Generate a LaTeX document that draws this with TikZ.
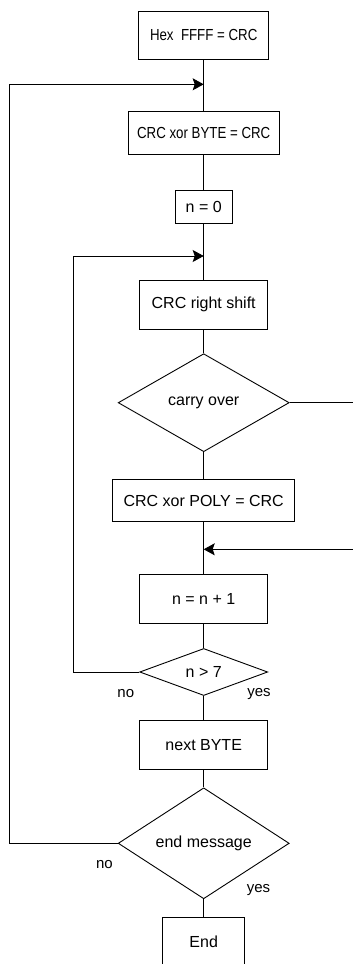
\documentclass[tikz,border=0pt]{standalone}
\usepackage{fontspec}
\setmainfont{Liberation Sans}
\newfontfamily\narrowsans[FakeStretch=0.83]{Liberation Sans}
\usetikzlibrary{shapes.geometric,arrows.meta}

\begin{document}
\begin{tikzpicture}[x=1pt,y=-1pt, line width=0.9pt,
  font=\fontsize{16}{19}\selectfont,
  block/.style 2 args={draw, rectangle, inner sep=0pt, minimum width=#1pt, minimum height=#2pt},
  decision/.style 2 args={draw, diamond, inner sep=0pt, minimum width=#1pt, minimum height=#2pt},
  flow/.style={-{Stealth[length=11pt,width=12pt,inset=2pt]}},
  lbl/.style={font=\fontsize{15}{18}\selectfont, inner sep=0pt, anchor=base}]
\useasboundingbox (0,0) rectangle (353,964);

\node[block={130}{48}] (hex) at (203.7,35.2) {\narrowsans Hex\ \ FFFF = CRC};
\node[block={151}{43}] (xbyte) at (203.7,133.3) {\narrowsans CRC xor BYTE = CRC};
\node[block={57}{33}] (nzero) at (203.7,206.7) {n = 0};
\node[block={128}{49}] (shift) at (203.7,304.7) {CRC right shift};
\node[decision={171}{98}] (carry) at (203.7,402.7) {carry over};
\node[block={182}{42}] (xpoly) at (203.7,500.5) {CRC xor POLY = CRC};
\node[block={128}{49}] (ninc) at (203.7,598.7) {n = n + 1};
\node[decision={128}{47}] (ntest) at (203.7,672) {n > 7};
\node[block={128}{49}] (nextb) at (203.7,745.3) {next BYTE};
\node[decision={171}{98}] (endmsg) at (203.7,843.3) {end message};
\node[block={82}{49}] (finish) at (203.7,941.5) {End};

\coordinate (outerin) at (203.7,84.3);
\coordinate (innerin) at (203.7,256);
\coordinate (carryin) at (203.7,549.3);

\draw (hex) -- (xbyte);
\draw (xbyte) -- (nzero);
\draw (nzero) -- (shift);
\draw (shift) -- (carry);
\draw (carry) -- (xpoly);
\draw (xpoly) -- (ninc);
\draw (ninc) -- (ntest);
\draw (ntest) -- (nextb);
\draw (nextb) -- (endmsg);
\draw (endmsg) -- (finish);

\draw[flow] (ntest.west) -- ++(-65.7,0) |- (innerin);
\draw[flow] (endmsg.west) -- ++(-108.3,0) |- (outerin);
\draw[flow] (carry.east) -- ++(70,0) |- (carryin);

\node[lbl] (testno) at (125.8,697) {no};
\node[lbl] (testyes) at (259,696.7) {yes};
\node[lbl] (endno) at (104.5,868.3) {no};
\node[lbl] (endyes) at (258.5,892.7) {yes};
\end{tikzpicture}
\end{document}
